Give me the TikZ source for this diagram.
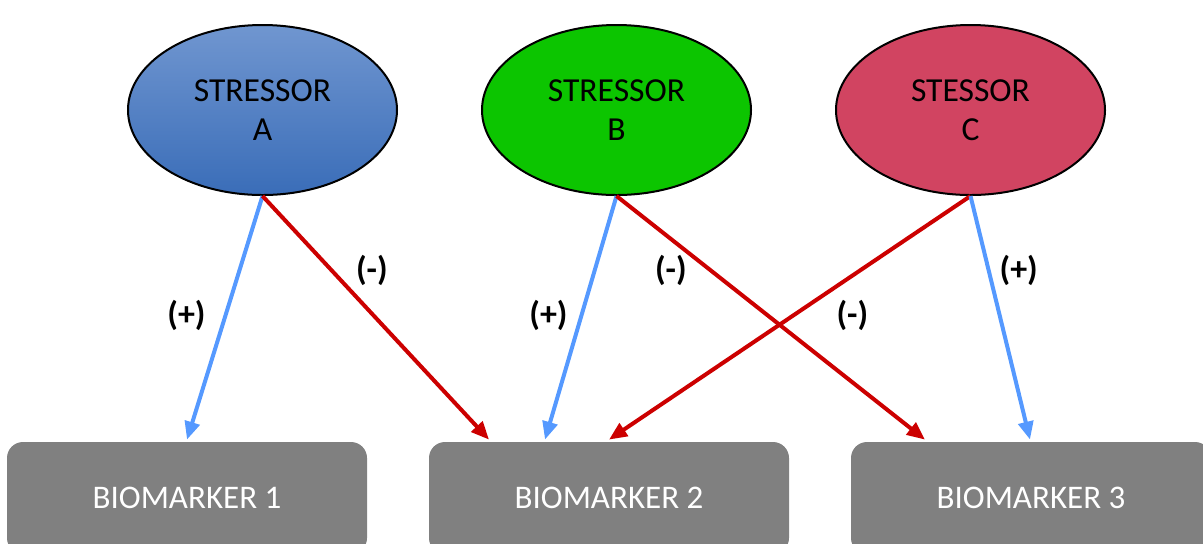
\documentclass[tikz,border=0pt]{standalone}
\usepackage{fontspec}
\setmainfont{Carlito}
\usepackage{xcolor}
\usetikzlibrary{positioning}
\usetikzlibrary{arrows.meta,shapes.geometric}
\definecolor{posblue}{HTML}{5599FF}
\definecolor{negred}{HTML}{CC0000}
\definecolor{greenB}{HTML}{0CC500}
\definecolor{redC}{HTML}{D14461}
\definecolor{blueTop}{HTML}{7096D0}
\definecolor{blueBot}{HTML}{3A6DB8}
\tikzset{
  stressor/.style={ellipse,draw,line width=1pt,minimum width=134.5pt,minimum height=85pt,
    inner sep=0pt,align=center,font=\fontsize{16.8}{19.5}\selectfont},
  marker/.style={rectangle,rounded corners=8pt,fill=black!50,text=white,minimum width=180pt,
    minimum height=56pt,font=\fontsize{16.5}{19.5}\selectfont},
  uparrow/.style={posblue,line width=2pt,-{Triangle[length=9pt,width=7.5pt]}},
  downarrow/.style={negred,line width=2pt,-{Triangle[length=9pt,width=7.5pt]}},
  sign/.style={font=\bfseries\fontsize{17}{19}\selectfont,black}
}
\begin{document}
\begin{tikzpicture}[x=0.5pt,y=-0.5pt,node distance=177pt,on grid]
   \useasboundingbox (0,0) rectangle (1203,543);
   \clip (0,0) rectangle (1203,543);
   \node[stressor,top color=blueTop,bottom color=blueBot] (sA) at (262.5,110) {STRESSOR\\A};
   \node[stressor,fill=greenB] (sB) [right=of sA] {STRESSOR\\B};
   \node[stressor,fill=redC] (sC) [right=of sB] {STESSOR\\C};
   \node[marker] (bm1) [below left=194pt and 37.75pt of sA] {BIOMARKER 1};
   \node[marker] (bm2) [right=211pt of bm1] {BIOMARKER 2};
   \node[marker] (bm3) [right=211pt of bm2] {BIOMARKER 3};
   % stressor A
   \draw[uparrow] (sA.south) -- node[sign,pos=0.49,xshift=-19.5pt] {(+)} ([yshift=1pt]bm1.north);
   \draw[downarrow] (sA.south) -- node[sign,pos=0.306,xshift=20pt] {(-)} ([xshift=-60pt,yshift=1pt]bm2.north);
   % stressor B
   \draw[uparrow] (sB.south) -- node[sign,pos=0.49,xshift=-16.5pt] {(+)} ([xshift=-32pt,yshift=1pt]bm2.north);
   \draw[downarrow] (sB.south) -- node[sign,pos=0.306,xshift=-20pt] {(-)} ([xshift=-53pt,yshift=1pt]bm3.north);
   % stressor C
   \draw[downarrow] (sC.south) -- node[sign,pos=0.49,xshift=29.5pt] {(-)} ([yshift=1pt]bm2.north);
   \draw[uparrow] (sC.south) -- node[sign,pos=0.306,xshift=15pt] {(+)} ([xshift=-0.5pt,yshift=1pt]bm3.north);
\end{tikzpicture}
\end{document}
